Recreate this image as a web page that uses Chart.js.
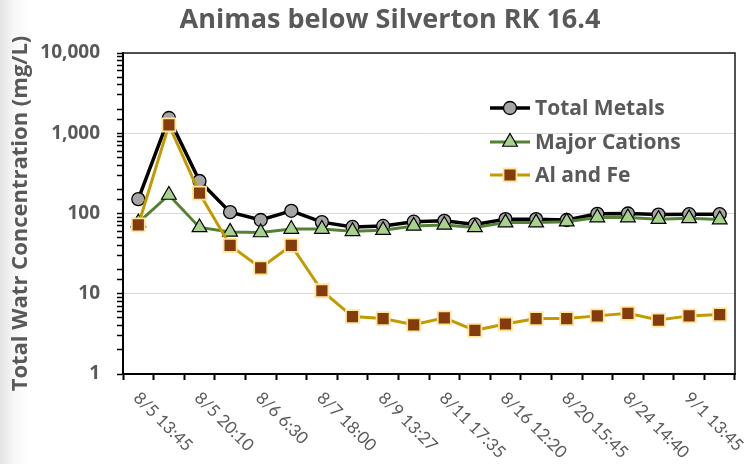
<!DOCTYPE html>
<html>
<head>
<meta charset="utf-8">
<script src="https://cdn.jsdelivr.net/npm/chart.js@4"></script>
<style>
  html, body { margin: 0; padding: 0; }
  body { width: 752px; height: 464px; background: linear-gradient(to right, #e4e4e4 0px, #f7f7f7 14px, #ffffff 30px); }
  canvas { display: block; }
</style>
</head>
<body>
<canvas id="chartAnimas" width="752" height="464"></canvas>
<script>
// sample times (only every other one is labelled on the axis)
const sampleTimes = ['8/5 13:45', '', '8/5 20:10', '', '8/6 6:30', '', '8/7 18:00', '', '8/9 13:27', '',
                     '8/11 17:35', '', '8/16 12:20', '', '8/20 15:45', '', '8/24 14:40', '', '9/1 13:45', ''];

// concentrations, mg/L
const totalMetals  = [151, 1550, 254, 104, 83, 108, 78, 68, 70, 79, 81, 73, 85, 85, 83, 99, 100, 97, 98, 98];
const majorCations = [77, 170, 67, 59, 58, 64, 64, 60, 62, 70, 72, 67, 77, 77, 79, 89, 89, 85, 87, 84];
const alAndFe      = [72, 1268, 179, 40, 21, 40, 10.9, 5.2, 4.9, 4.1, 5.0, 3.5, 4.2, 4.9, 4.9, 5.3, 5.7, 4.7, 5.3, 5.5];

const yTicks = [1, 10, 100, 1000, 10000];

const chartTitle = 'Animas below Silverton RK 16.4';
const yTitle = 'Total Watr Concentration (mg/L)';

const grey = '#595959';
const BOLD = '"Open Sans", Lato, sans-serif';
const LIGHT = 'Lato, "Open Sans", sans-serif';

const isDecade = v => yTicks.some(t => Math.abs(t - v) < 1e-6 * t);

// title, box, rotated date labels and the inside legend
const extras = {
    id: 'extras',
    afterDraw(chart) {
        const ctx = chart.ctx;
        const area = chart.chartArea;
        const xScale = chart.scales.x;

        ctx.save();
        // plot box
        ctx.strokeStyle = '#1a1a1a';
        ctx.lineWidth = 1.5;
        ctx.beginPath();
        ctx.moveTo(area.left, area.top);
        ctx.lineTo(area.right, area.top);
        ctx.lineTo(area.right, area.bottom);
        ctx.stroke();

        // title
        ctx.fillStyle = grey;
        ctx.font = 'bold 27px ' + BOLD;
        ctx.textAlign = 'center';
        ctx.textBaseline = 'alphabetic';
        ctx.fillText(chartTitle, 390, 28);

        // x labels, turned 45deg clockwise
        ctx.font = '17px ' + LIGHT;
        ctx.textAlign = 'left';
        ctx.textBaseline = 'middle';
        sampleTimes.forEach((lab, i) => {
            if (!lab) return;
            const x = xScale.getPixelForValue(i);
            ctx.save();
            ctx.translate(x - 2, 395);
            ctx.rotate(Math.PI / 4);
            ctx.fillText(lab, 0, 0);
            ctx.restore();
        });

        // legend
        const rows = [108, 142, 175];
        chart.data.datasets.forEach((ds, i) => {
            const y = rows[i];
            ctx.strokeStyle = ds.borderColor;
            ctx.lineWidth = ds.borderWidth;
            ctx.beginPath();
            ctx.moveTo(490, y);
            ctx.lineTo(530, y);
            ctx.stroke();
            ctx.fillStyle = ds.pointBackgroundColor;
            ctx.strokeStyle = ds.pointBorderColor;
            ctx.lineWidth = ds.pointBorderWidth;
            Chart.helpers.drawPoint(ctx, {
                pointStyle: ds.pointStyle,
                radius: ds.pointRadius,
                rotation: 0,
                borderWidth: ds.pointBorderWidth
            }, 510, y);
            ctx.fillStyle = grey;
            ctx.font = 'bold 21px ' + BOLD;
            ctx.textAlign = 'left';
            ctx.textBaseline = 'middle';
            ctx.fillText(ds.label, 535, y + 1);
        });
        ctx.restore();
    }
};

const ctx = document.getElementById('chartAnimas').getContext('2d');
const chart = new Chart(ctx, {
    type: 'line',
    data: {
        labels: sampleTimes,
        datasets: [
            {
                label: 'Total Metals',
                data: totalMetals,
                borderColor: '#000000',
                borderWidth: 3.5,
                pointStyle: 'circle',
                pointRadius: 6.5,
                pointBackgroundColor: '#a5a5a5',
                pointBorderColor: '#000000',
                pointBorderWidth: 1.3,
                tension: 0,
                order: 3
            },
            {
                label: 'Major Cations',
                data: majorCations,
                borderColor: '#548235',
                borderWidth: 3,
                pointStyle: 'triangle',
                pointRadius: 8.5,
                pointBackgroundColor: '#a9d18e',
                pointBorderColor: '#000000',
                pointBorderWidth: 1.2,
                tension: 0,
                order: 2
            },
            {
                label: 'Al and Fe',
                data: alAndFe,
                borderColor: '#c49a00',
                borderWidth: 3,
                pointStyle: 'rect',
                pointRadius: 9.2,
                pointBackgroundColor: '#843c0c',
                pointBorderColor: '#ffe699',
                pointBorderWidth: 1.8,
                tension: 0,
                order: 1
            }
        ]
    },
    options: {
        responsive: false,
        animation: false,
        devicePixelRatio: 1,
        layout: {
            padding: { left: 0, right: 17, top: 53, bottom: 0 }
        },
        plugins: {
            legend: { display: false },
            title: { display: false },
            tooltip: { enabled: false }
        },
        scales: {
            x: {
                offset: true,
                grid: {
                    offset: true,
                    drawOnChartArea: false,
                    drawTicks: true,
                    tickLength: 6,
                    tickColor: '#000000',
                    tickWidth: 2
                },
                border: { color: '#000000', width: 2 },
                ticks: { display: false },
                afterFit: scale => { scale.height = 90; }
            },
            y: {
                type: 'logarithmic',
                min: 1,
                max: 10000,
                grid: {
                    color: c => (c.tick && isDecade(c.tick.value)) ? '#d9d9d9' : 'rgba(0,0,0,0)',
                    lineWidth: 1,
                    drawTicks: true,
                    tickLength: 6,
                    tickColor: '#000000',
                    tickWidth: 1.5
                },
                border: { color: '#000000', width: 2 },
                ticks: {
                    autoSkip: false,
                    padding: 17,
                    color: grey,
                    font: { family: BOLD, size: 19, weight: 'bold' },
                    callback: v => isDecade(v) ? Math.round(v).toLocaleString('en-US') : ''
                },
                title: {
                    display: true,
                    text: yTitle,
                    color: grey,
                    font: { family: BOLD, size: 22, weight: 'bold' },
                    padding: { top: 8, bottom: 0 }
                },
                afterFit: scale => { scale.width = 123; }
            }
        }
    },
    plugins: [extras]
});
</script>
</body>
</html>
